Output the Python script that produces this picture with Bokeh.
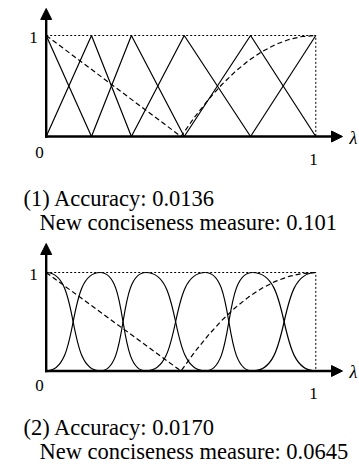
from bokeh.plotting import figure
from bokeh.layouts import column
from bokeh.models import Range1d, Arrow, NormalHead
from bokeh.core.properties import value
from bokeh.embed import file_html
from bokeh.resources import INLINE

# Peak positions of the six membership functions in each partition
centers_triangular = [0.0, 0.168, 0.316, 0.512, 0.758, 1.0]
centers_smooth = [0.0, 0.20, 0.37, 0.59, 0.765, 1.0]

# Dashed reference curve (same in both partitions)
ref_x = [0.0, 0.5, 0.55, 0.6, 0.65, 0.7, 0.75, 0.8, 0.85, 0.9, 0.95, 1.0]
ref_y = [1.0, 0.0, 0.19, 0.36, 0.51, 0.64, 0.75, 0.84, 0.91, 0.96, 0.99, 1.0]

# Captions under each partition
captions = [
    ("(1) Accuracy: 0.0136", "New conciseness measure: 0.101"),
    ("(2) Accuracy: 0.0170", "New conciseness measure: 0.0645"),
]
x_ticks = ["0", "1"]
y_tick = "1"
axis_name = "λ"

W = 359
X0_PX, X1_PX = 45.7, 315.3
SERIF = value("Liberation Serif")
SMOOTH_SHAPE = 0.65  # bezier control-point offset (fraction of interval)


def make_panel(height, top_px, bot_px, centers, smooth, caption, lay):
    ux = X1_PX - X0_PX
    uy = bot_px - top_px
    p = figure(width=W, height=height,
               x_range=Range1d(-X0_PX / ux, (W - X0_PX) / ux),
               y_range=Range1d((bot_px - height) / uy, bot_px / uy),
               output_backend="svg", toolbar_location=None,
               x_axis_location=None, y_axis_location=None, min_border=0)
    p.grid.visible = False
    p.outline_line_color = None
    p.background_fill_color = "white"
    p.border_fill_color = "white"

    def px(v):
        return (v - X0_PX) / ux

    def py(v):
        return (bot_px - v) / uy

    # dotted frame at membership 1 and at x = 1
    p.line([0, 1, 1], [1, 1, 0], line_color="black", line_width=1,
           line_dash="2 2")

    # membership functions
    if not smooth:
        xs, ys = [], []
        n = len(centers)
        for i, c in enumerate(centers):
            fx, fy = [], []
            if i > 0:
                fx.append(centers[i - 1]); fy.append(0)
            fx.append(c); fy.append(1)
            if i < n - 1:
                fx.append(centers[i + 1]); fy.append(0)
            xs.append(fx); ys.append(fy)
        p.multi_line(xs, ys, line_color="black", line_width=1.2)
    else:
        a0, a1 = centers[:-1], centers[1:]
        w = [b - a for a, b in zip(a0, a1)]
        k = len(a0)
        c0 = [a + SMOOTH_SHAPE * d for a, d in zip(a0, w)]
        c1 = [b - SMOOTH_SHAPE * d for b, d in zip(a1, w)]
        # rising halves
        p.bezier(x0=a0, y0=[0] * k, x1=a1, y1=[1] * k,
                 cx0=c0, cy0=[0] * k, cx1=c1, cy1=[1] * k,
                 line_color="black", line_width=1.2)
        # falling halves
        p.bezier(x0=a0, y0=[1] * k, x1=a1, y1=[0] * k,
                 cx0=c0, cy0=[1] * k, cx1=c1, cy1=[0] * k,
                 line_color="black", line_width=1.2)

    # dashed reference curve
    p.line(ref_x, ref_y, line_color="black", line_width=1.2, line_dash="5 3")

    # axes with arrow heads
    p.add_layout(Arrow(end=NormalHead(size=11, fill_color="black", line_color="black"),
                       x_start=px(X0_PX - 1.2), y_start=0, x_end=px(342), y_end=0,
                       line_width=2.6, line_color="black"))
    p.add_layout(Arrow(end=NormalHead(size=11, fill_color="black", line_color="black"),
                       x_start=0, y_start=py(bot_px + 1.2), x_end=0, y_end=py(lay["ytip"]),
                       line_width=2.4, line_color="black"))

    # tick labels
    p.text(x=[px(39), px(313)], y=[py(lay["zero_y"]), py(lay["one_y"])], text=x_ticks,
           text_font=SERIF, text_font_size="17px", text_align="center",
           text_baseline="middle", text_color="black")
    p.text(x=[px(33)], y=[py(top_px + 1.5)], text=[y_tick],
           text_font=SERIF, text_font_size="17px", text_align="center",
           text_baseline="middle", text_color="black")
    p.text(x=[px(349)], y=[py(bot_px + 1.0)], text=[axis_name],
           text_font=SERIF, text_font_size="18px", text_font_style="italic",
           text_align="left", text_baseline="middle", text_color="black")

    # captions
    p.text(x=[px(23), px(39)], y=[py(lay["cap1"]), py(lay["cap2"])], text=list(caption),
           text_font=SERIF, text_font_size="22.5px", text_align="left",
           text_baseline="middle", text_color="black")
    return p


p1 = make_panel(236, 35, 136, centers_triangular, False, captions[0],
                dict(ytip=8, zero_y=152, one_y=159, cap1=198, cap2=222))
p2 = make_panel(230, 36, 134.5, centers_smooth, True, captions[1],
                dict(ytip=7, zero_y=149, one_y=157, cap1=191, cap2=215))

layout = column(p1, p2, spacing=0)
open("out.html", "w").write(file_html(layout, INLINE))
